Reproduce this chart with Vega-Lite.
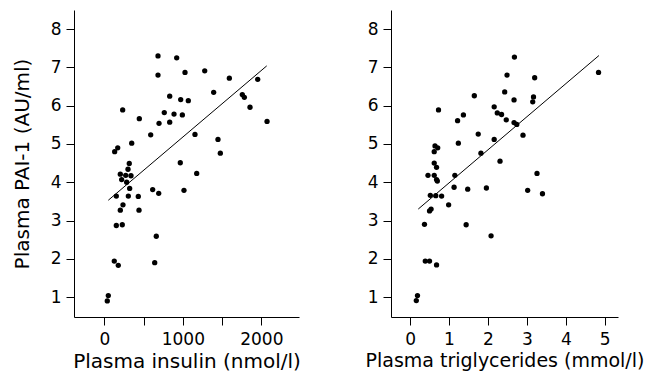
{
  "$schema": "https://vega.github.io/schema/vega-lite/v6.json",
  "background": "white",
  "padding": {"left": 12, "top": 10, "right": 5, "bottom": 2},
  "config": {
    "font": "DejaVu Sans",
    "view": {"stroke": null},
    "axis": {
      "grid": false,
      "domainColor": "black",
      "tickColor": "black",
      "labelColor": "black",
      "titleColor": "black",
      "labelFont": "DejaVu Sans",
      "titleFont": "DejaVu Sans",
      "labelFontSize": 17,
      "titleFontSize": 20,
      "titleFontWeight": "normal",
      "tickSize": 8,
      "labelPadding": 5,
      "titlePadding": 4,
      "domainWidth": 1,
      "tickWidth": 1
    },
    "axisX": {"labelPadding": 6, "titlePadding": 4}
  },
  "datasets": {
    "insulin": [
      {"x": 684, "y": 7.30}, {"x": 922, "y": 7.25}, {"x": 684, "y": 6.80}, {"x": 1028, "y": 6.87},
      {"x": 1279, "y": 6.91}, {"x": 1593, "y": 6.72}, {"x": 1954, "y": 6.69}, {"x": 1393, "y": 6.35},
      {"x": 1758, "y": 6.29}, {"x": 1784, "y": 6.22}, {"x": 833, "y": 6.25}, {"x": 973, "y": 6.16},
      {"x": 1070, "y": 6.13}, {"x": 1856, "y": 5.96}, {"x": 234, "y": 5.89}, {"x": 764, "y": 5.82},
      {"x": 888, "y": 5.78}, {"x": 994, "y": 5.76}, {"x": 446, "y": 5.66}, {"x": 833, "y": 5.57},
      {"x": 697, "y": 5.54}, {"x": 2073, "y": 5.59}, {"x": 591, "y": 5.24}, {"x": 1155, "y": 5.25},
      {"x": 1448, "y": 5.12}, {"x": 1478, "y": 4.76}, {"x": 349, "y": 5.02}, {"x": 171, "y": 4.90},
      {"x": 132, "y": 4.80}, {"x": 968, "y": 4.51}, {"x": 318, "y": 4.49}, {"x": 302, "y": 4.34},
      {"x": 1177, "y": 4.23}, {"x": 204, "y": 4.21}, {"x": 273, "y": 4.18}, {"x": 340, "y": 4.17},
      {"x": 221, "y": 4.07}, {"x": 285, "y": 4.00}, {"x": 323, "y": 3.84}, {"x": 153, "y": 3.64},
      {"x": 306, "y": 3.64}, {"x": 433, "y": 3.63}, {"x": 616, "y": 3.81}, {"x": 693, "y": 3.71},
      {"x": 1015, "y": 3.79}, {"x": 238, "y": 3.41}, {"x": 204, "y": 3.27}, {"x": 442, "y": 3.27},
      {"x": 153, "y": 2.87}, {"x": 229, "y": 2.89}, {"x": 662, "y": 2.59}, {"x": 127, "y": 1.94},
      {"x": 178, "y": 1.83}, {"x": 642, "y": 1.90}, {"x": 51, "y": 1.04}, {"x": 38, "y": 0.90}
    ],
    "insulinFit": [{"x": 51, "y": 3.53}, {"x": 2069, "y": 7.04}],
    "tg": [
      {"x": 2.68, "y": 7.27}, {"x": 4.84, "y": 6.87}, {"x": 2.49, "y": 6.80}, {"x": 3.20, "y": 6.73},
      {"x": 1.65, "y": 6.26}, {"x": 2.43, "y": 6.36}, {"x": 2.67, "y": 6.15}, {"x": 3.17, "y": 6.23},
      {"x": 3.15, "y": 6.10}, {"x": 0.73, "y": 5.89}, {"x": 2.16, "y": 5.97}, {"x": 2.24, "y": 5.81},
      {"x": 2.35, "y": 5.77}, {"x": 1.37, "y": 5.76}, {"x": 1.22, "y": 5.61}, {"x": 2.47, "y": 5.63},
      {"x": 2.67, "y": 5.56}, {"x": 2.74, "y": 5.51}, {"x": 1.75, "y": 5.26}, {"x": 2.90, "y": 5.23},
      {"x": 2.16, "y": 5.12}, {"x": 1.24, "y": 5.02}, {"x": 0.64, "y": 4.95}, {"x": 0.71, "y": 4.90},
      {"x": 0.62, "y": 4.80}, {"x": 1.82, "y": 4.76}, {"x": 0.62, "y": 4.50}, {"x": 2.31, "y": 4.55},
      {"x": 0.68, "y": 4.39}, {"x": 3.26, "y": 4.23}, {"x": 0.46, "y": 4.18}, {"x": 0.62, "y": 4.18},
      {"x": 1.15, "y": 4.18}, {"x": 0.68, "y": 4.07}, {"x": 0.70, "y": 4.03}, {"x": 0.52, "y": 3.66},
      {"x": 0.66, "y": 3.65}, {"x": 0.81, "y": 3.64}, {"x": 1.13, "y": 3.87}, {"x": 1.48, "y": 3.82},
      {"x": 1.96, "y": 3.85}, {"x": 3.02, "y": 3.79}, {"x": 3.40, "y": 3.70}, {"x": 0.99, "y": 3.41},
      {"x": 0.54, "y": 3.30}, {"x": 0.50, "y": 3.25}, {"x": 0.37, "y": 2.90}, {"x": 1.44, "y": 2.89},
      {"x": 2.08, "y": 2.60}, {"x": 0.39, "y": 1.94}, {"x": 0.50, "y": 1.94}, {"x": 0.68, "y": 1.84},
      {"x": 0.19, "y": 1.04}, {"x": 0.16, "y": 0.91}
    ],
    "tgFit": [{"x": 0.21, "y": 3.30}, {"x": 4.85, "y": 7.31}]
  },
  "bounds": "flush",
  "spacing": 92,
  "hconcat": [
    {
      "width": 225,
      "height": 307,
      "layer": [
        {
          "data": {"name": "insulin"},
          "mark": {"type": "circle", "size": 28, "color": "black", "opacity": 1},
          "encoding": {
            "x": {"field": "x", "type": "quantitative",
              "scale": {"domain": [-386, 2480], "nice": false, "zero": false},
              "axis": {"title": "Plasma insulin (nmol/l)", "values": [0, 500, 1000, 1500, 2000], "format": "d",
                "labelExpr": "datum.value % 1000 == 0 ? datum.label : ''"}},
            "y": {"field": "y", "type": "quantitative",
              "scale": {"domain": [0.48, 8.5], "nice": false, "zero": false},
              "axis": {"title": "Plasma PAI-1 (AU/ml)", "values": [1, 2, 3, 4, 5, 6, 7, 8], "titlePadding": 18}}
          }
        },
        {
          "data": {"name": "insulinFit"},
          "mark": {"type": "line", "color": "black", "strokeWidth": 1},
          "encoding": {
            "x": {"field": "x", "type": "quantitative"},
            "y": {"field": "y", "type": "quantitative"}
          }
        }
      ]
    },
    {
      "width": 227,
      "height": 307,
      "layer": [
        {
          "data": {"name": "tg"},
          "mark": {"type": "circle", "size": 28, "color": "black", "opacity": 1},
          "encoding": {
            "x": {"field": "x", "type": "quantitative",
              "scale": {"domain": [-0.49, 5.34], "nice": false, "zero": false},
              "axis": {"title": "Plasma triglycerides (mmol/l)", "titleFontSize": 19, "values": [0, 1, 2, 3, 4, 5]}},
            "y": {"field": "y", "type": "quantitative",
              "scale": {"domain": [0.48, 8.5], "nice": false, "zero": false},
              "axis": {"title": null, "values": [1, 2, 3, 4, 5, 6, 7, 8]}}
          }
        },
        {
          "data": {"name": "tgFit"},
          "mark": {"type": "line", "color": "black", "strokeWidth": 1},
          "encoding": {
            "x": {"field": "x", "type": "quantitative"},
            "y": {"field": "y", "type": "quantitative"}
          }
        }
      ]
    }
  ]
}
